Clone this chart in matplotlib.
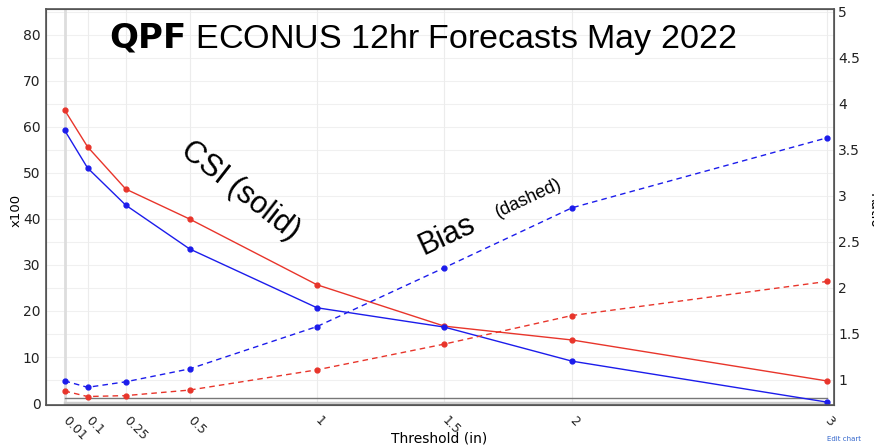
import matplotlib
matplotlib.use("Agg")
import matplotlib.pyplot as plt
import numpy as np

# thresholds (in)
thresh = [0.01, 0.1, 0.25, 0.5, 1, 1.5, 2, 3]
thresh_labels = ["0.01", "0.1", "0.25", "0.5", "1", "1.5", "2", "3"]

# CSI (x100), left axis
csi_red = [63.7, 55.7, 46.5, 40.0, 25.7, 16.7, 13.7, 4.8]
csi_blue = [59.3, 51.1, 43.0, 33.5, 20.7, 16.5, 9.1, 0.2]

# frequency bias (ratio), right axis
bias_red = [0.88, 0.82, 0.83, 0.89, 1.11, 1.39, 1.70, 2.07]
bias_blue = [0.99, 0.92, 0.98, 1.12, 1.58, 2.22, 2.87, 3.63]

red = "#e8352b"
blue = "#1c1ceb"

fig = plt.figure(figsize=(8.74, 4.48), dpi=100)
ax = fig.add_axes([0.0526, 0.096, 0.9014, 0.884])
ax2 = ax.twinx()

ax.set_xlim(-0.063, 3.027)
ax.set_ylim(-0.43, 85.65)
ax2.set_ylim(0.728, 5.03)

# grid
for v in np.arange(5, 86, 5):
    ax.axhline(v, color="#f0f0f0", lw=0.8, zorder=0)
for t in thresh:
    ax.axvline(t, color="#ececec", lw=0.8, zorder=0)
ax.axvline(thresh[0], color="#dddddd", lw=2, zorder=0)

# reference lines near the bottom
ax.plot([thresh[0], thresh[-1]], [1.1, 1.1], color="#777777", lw=1, zorder=1)
ax.plot([thresh[0], thresh[-1]], [0.0, 0.0], color="#cccccc", lw=2.5, zorder=1)

ax.plot(thresh, csi_red, color=red, lw=1, marker="o", ms=3.5, zorder=3)
ax.plot(thresh, csi_blue, color=blue, lw=1, marker="o", ms=3.5, zorder=3)
ax2.plot(thresh, bias_red, color=red, lw=1, ls=(0, (4, 3)), marker="o", ms=3.5)
ax2.plot(thresh, bias_blue, color=blue, lw=1, ls=(0, (4, 3)), marker="o", ms=3.5)

ax.set_xticks(thresh)
ax.set_xticklabels(thresh_labels, rotation=-45, ha="left", va="center",
                   rotation_mode="anchor", fontsize=9, color="#222222")
ax.set_yticks(np.arange(0, 81, 10))
ax.tick_params(axis="y", labelsize=10, colors="#222222", length=0, pad=4)
ax.tick_params(axis="x", length=0, pad=10)
ax2.set_yticks([1, 1.5, 2, 2.5, 3, 3.5, 4, 4.5, 5])
ax2.set_yticklabels(["1", "1.5", "2", "2.5", "3", "3.5", "4", "4.5", "5"])
ax2.tick_params(axis="y", labelsize=10, colors="#222222", length=0, pad=3)

for s in ["left", "bottom", "top", "right"]:
    ax.spines[s].set_color("#555555")
    ax2.spines[s].set_color("#555555")
    ax2.spines[s].set_linewidth(1.2)

fig.text(0.018, 0.53, "x100", rotation=90, fontsize=9.5, ha="center", va="center")
fig.text(0.503, 0.022, "Threshold (in)", fontsize=10, ha="center", va="center")
fig.text(0.992, 0.53, "Ratio", rotation=-90, fontsize=10, ha="left", va="center")

fig.text(0.483, 0.912, r"$\bf{QPF}$" + " ECONUS 12hr Forecasts May 2022",
         fontsize=24.5, ha="center", va="center", family="Liberation Sans")
ax.text(0.70, 46, "CSI (solid)", rotation=-38, fontsize=22, ha="center", va="center",
        family="Liberation Sans")
ax.text(1.51, 36.5, "Bias", rotation=25, fontsize=22, ha="center", va="center",
        family="Liberation Sans")
ax.text(1.83, 44.5, "(dashed)", rotation=25, fontsize=13, ha="center", va="center",
        family="Liberation Sans")
fig.text(0.985, 0.015, "Edit chart", fontsize=5, color="#3366cc", ha="right")

fig.savefig("out.png", dpi=100)
